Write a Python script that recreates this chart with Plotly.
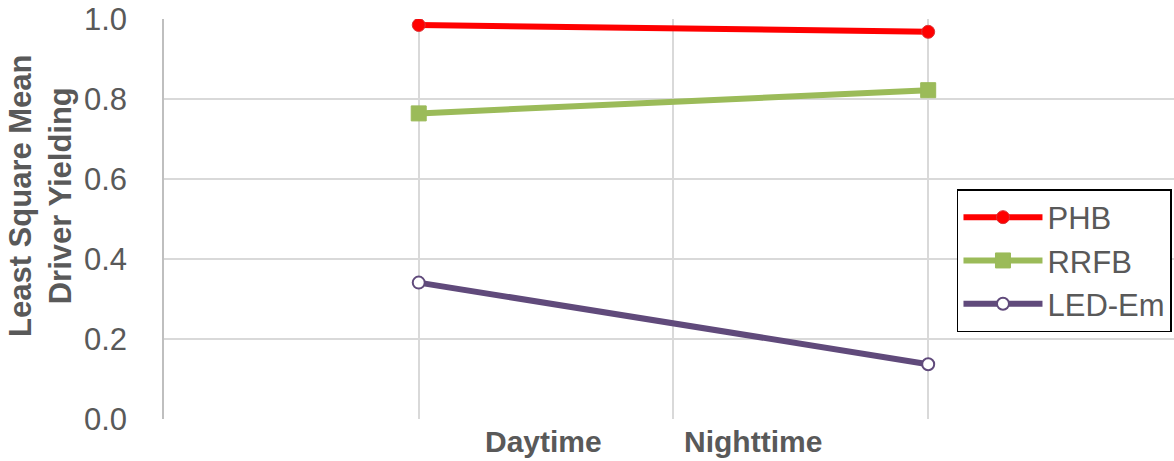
import plotly.graph_objects as go

categories = ["Daytime", "Nighttime"]
cat_pos = [1, 3]
series_names = ["PHB", "RRFB", "LED-Em"]
phb = [0.985, 0.968]
rrfb = [0.764, 0.822]
led = [0.341, 0.137]
y_ticks = [0.0, 0.2, 0.4, 0.6, 0.8, 1.0]
label_pos = [1.488, 2.312]

FONT = "Liberation Sans, Arial"
GREY = "#595959"

fig = go.Figure()
fig.add_trace(go.Scatter(x=cat_pos, y=phb, name=series_names[0], mode="lines+markers",
                         line=dict(color="#FF0000", width=6),
                         marker=dict(symbol="circle", size=13, color="#FF0000",
                                     line=dict(color="#D9373B", width=1)),
                         legendgroup="a"))
fig.add_trace(go.Scatter(x=cat_pos, y=rrfb, name=series_names[1], mode="lines+markers",
                         line=dict(color="#9BBB59", width=6),
                         marker=dict(symbol="square", size=15, color="#9BBB59",
                                     line=dict(color="#9BBB59", width=1)),
                         legendgroup="b"))
fig.add_trace(go.Scatter(x=cat_pos, y=led, name=series_names[2], mode="lines+markers",
                         line=dict(color="#604A7B", width=6),
                         marker=dict(symbol="circle", size=12, color="white",
                                     line=dict(color="#604A7B", width=2)),
                         legendgroup="c"))

for lab, xp in zip(categories, label_pos):
    fig.add_annotation(x=xp, y=0, xref="x", yref="paper", yshift=-22, text=lab,
                       showarrow=False, yanchor="middle",
                       font=dict(family=FONT, size=30, color=GREY, weight="bold"))

fig.add_annotation(x=0, xref="paper", y=0.5575, yref="paper",
                   text="Least Square Mean<br>Driver Yielding", textangle=-90,
                   showarrow=False, xshift=-124, xanchor="center", yanchor="middle",
                   font=dict(family=FONT, size=31, color=GREY, weight="bold"))

fig.update_layout(
    width=1174, height=461,
    margin=dict(l=164, r=0, t=19, b=42),
    paper_bgcolor="white", plot_bgcolor="white",
    font=dict(family=FONT, size=31, color=GREY),
    xaxis=dict(range=[0, 3.965], tickvals=[1, 2, 3], ticktext=["", "", ""],
               showgrid=True, gridcolor="#D9D9D9", gridwidth=1.5, zeroline=False,
               showline=False, ticks="", automargin=False),
    yaxis=dict(range=[0, 1.0], tickvals=y_ticks, tickformat=".1f",
               showgrid=True, gridcolor="#D9D9D9", gridwidth=1.5, zeroline=False,
               showline=True, linecolor="#BFBFBF", linewidth=1.5, ticks="",
               ticklabelstandoff=29, tickfont=dict(family=FONT, size=31, color=GREY),
               automargin=False),
    legend=dict(x=0.998, y=0.575, xanchor="right", yanchor="top",
                bordercolor="black", borderwidth=1.5, bgcolor="white",
                font=dict(family=FONT, size=31, color=GREY), tracegroupgap=0,
                itemwidth=79),
    showlegend=True,
)

fig.write_html("out.html", config={"displayModeBar": False},
               post_script="document.body.style.margin='0';document.body.style.overflow='hidden';")
